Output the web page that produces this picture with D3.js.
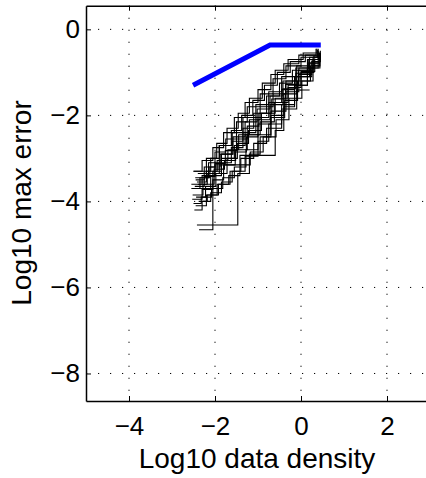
<!DOCTYPE html>
<html>
<head>
<meta charset="utf-8">
<script src="https://cdn.jsdelivr.net/npm/d3@7"></script>
<style>
  body { margin: 0; background: #fff; }
  svg { display: block; font-family: "Liberation Sans", Arial, sans-serif; }
</style>
</head>
<body>
<div id="chart"></div>
<script>
// tick values
const xTicks = [-4, -2, 0, 2];
const yTicks = [0, -2, -4, -6, -8];

// thick blue reference line
const blueX = [-2.51, -0.72, 0.46];
const blueY = [-1.30, -0.365, -0.365];

// black staircase runs, [log10 density, log10 max error]
const runs = [
  [[-2.45,-3.5],[-2.25,-3.2],[-2.0,-2.85],[-1.75,-2.55],[-1.5,-2.15],[-1.25,-1.8],[-0.95,-1.5],[-0.65,-1.15],[-0.35,-0.85],[0.0,-0.65],[0.38,-0.48]],
  [[-2.5,-3.3],[-2.3,-3.05],[-2.05,-2.75],[-1.8,-2.4],[-1.55,-2.05],[-1.3,-1.7],[-1.0,-1.4],[-0.7,-1.05],[-0.4,-0.8],[-0.05,-0.6],[0.35,-0.45]],
  [[-2.42,-4.55],[-1.47,-3.35],[-1.2,-2.9],[-0.95,-2.5],[-0.7,-2.0],[-0.4,-1.5],[-0.1,-1.1],[0.2,-0.8],[0.43,-0.62]],
  [[-2.37,-4.66],[-2.05,-3.3],[-1.85,-3.0],[-1.55,-2.7],[-1.3,-2.45],[-1.0,-2.2],[-0.7,-1.9],[-0.35,-1.45],[-0.05,-1.05],[0.25,-0.75],[0.45,-0.55]],
  [[-2.55,-3.6],[-2.3,-3.4],[-2.0,-3.15],[-1.42,-2.93],[-0.6,-2.35],[-0.4,-1.8],[-0.15,-1.3],[0.15,-0.9],[0.4,-0.65]],
  [[-2.45,-4.1],[-2.2,-3.85],[-1.95,-3.6],[-1.65,-3.3],[-1.4,-3.0],[-1.1,-2.65],[-0.8,-2.3],[-0.45,-1.85],[-0.1,-1.41],[0.2,-1.41]],
  [[-2.5,-3.3],[-2.35,-3.3],[-2.1,-3.0],[-1.9,-2.7],[-1.6,-2.4],[-1.35,-2.05],[-1.05,-1.75],[-0.75,-1.45],[-0.45,-1.1],[-0.1,-0.85],[0.2,-0.65],[0.38,-0.55]],
  [[-2.48,-4.2],[-2.3,-4.0],[-2.1,-3.8],[-1.85,-3.55],[-1.6,-3.3],[-1.3,-2.95],[-1.0,-2.6],[-0.75,-2.2],[-0.45,-1.75],[-0.15,-1.3],[0.15,-0.9],[0.44,-0.6]],
  [[-2.42,-3.55],[-2.2,-3.3],[-1.95,-3.05],[-1.7,-2.8],[-1.45,-2.45],[-1.2,-2.1],[-0.95,-1.8],[-0.65,-1.5],[-0.35,-1.2],[-0.05,-0.9],[0.3,-0.62],[0.42,-0.52]],
  [[-2.52,-3.85],[-2.28,-3.6],[-2.02,-3.25],[-1.78,-3.05],[-1.52,-2.8],[-1.25,-2.45],[-0.95,-2.15],[-0.62,-1.7],[-0.3,-1.35],[0.0,-1.0],[0.3,-0.7],[0.45,-0.58]],
  [[-2.46,-3.45],[-2.15,-3.1],[-1.9,-2.7],[-1.62,-2.35],[-1.38,-2.0],[-1.12,-1.65],[-0.85,-1.3],[-0.55,-1.0],[-0.25,-0.75],[0.1,-0.6],[0.4,-0.45]],
  [[-2.38,-4.0],[-2.18,-3.85],[-1.92,-3.6],[-1.68,-3.4],[-1.42,-3.15],[-1.18,-2.85],[-0.88,-2.5],[-0.58,-2.1],[-0.28,-1.6],[0.02,-1.2],[0.28,-0.85],[0.43,-0.64]],
  [[-2.55,-3.7],[-2.35,-3.45],[-2.12,-3.2],[-1.88,-2.9],[-1.58,-2.5],[-1.3,-2.15],[-1.02,-1.85],[-0.72,-1.55],[-0.42,-1.2],[-0.12,-0.9],[0.18,-0.7],[0.41,-0.56]],
  [[-2.44,-3.9],[-2.22,-3.65],[-1.98,-3.35],[-1.72,-3.0],[-1.48,-2.65],[-1.22,-2.35],[-0.92,-1.95],[-0.6,-1.6],[-0.3,-1.3],[0.0,-0.98],[0.32,-0.68]],
  [[-2.5,-4.05],[-2.32,-3.9],[-2.08,-3.7],[-1.82,-3.45],[-1.55,-3.2],[-1.28,-2.8],[-1.0,-2.45],[-0.7,-2.05],[-0.38,-1.65],[-0.08,-1.2],[0.22,-0.85],[0.44,-0.62]],
  [[-2.4,-3.35],[-2.2,-3.0],[-1.96,-2.65],[-1.72,-2.3],[-1.46,-1.95],[-1.2,-1.6],[-0.9,-1.25],[-0.6,-0.95],[-0.3,-0.7],[0.05,-0.55],[0.37,-0.45]],
  [[-2.47,-3.65],[-2.25,-3.42],[-2.0,-3.12],[-1.76,-2.82],[-1.5,-2.55],[-1.25,-2.25],[-0.98,-1.95],[-0.68,-1.62],[-0.36,-1.28],[-0.06,-0.95],[0.26,-0.7],[0.43,-0.55]],
  [[-2.53,-3.95],[-2.3,-3.72],[-2.05,-3.5],[-1.8,-3.15],[-1.53,-2.85],[-1.27,-2.5],[-1.0,-2.1],[-0.72,-1.75],[-0.42,-1.38],[-0.12,-1.02],[0.18,-0.78],[0.42,-0.6]],
  [[-2.4,-3.6],[-2.18,-3.35],[-1.9,-3.1],[-1.62,-2.75],[-1.35,-2.4],[-1.05,-2.05],[-0.75,-1.7],[-0.45,-1.4],[-0.15,-1.1],[0.25,-0.95],[0.28,-0.65],[0.45,-0.5]],
  [[-2.35,-3.7],[-2.1,-3.4],[-1.85,-2.9],[-1.6,-2.6],[-1.35,-2.3],[-1.1,-1.95],[-0.8,-1.55],[-0.5,-1.25],[-0.2,-0.95],[0.15,-0.7],[0.4,-0.5]]
];

const width = 426, height = 478;
const plotLeft = 86, plotTop = 5.7, plotBottom = 401, plotRight = 430;

const svg = d3.select("#chart")
  .append("svg")
    .attr("width", width)
    .attr("height", height);

const x = d3.scaleLinear().domain([-5, 3]).range([plotLeft, plotRight]);
const y = d3.scaleLinear().domain([0.55, -8.64]).range([plotTop, plotBottom]);

// dotted grid
svg.append("g")
  .selectAll("line")
  .data(xTicks)
  .join("line")
    .attr("x1", d => x(d)).attr("x2", d => x(d))
    .attr("y1", plotTop).attr("y2", plotBottom)
    .attr("stroke", "#000")
    .attr("stroke-width", 1)
    .attr("stroke-dasharray", "1.2,10.8");

svg.append("g")
  .selectAll("line")
  .data(yTicks)
  .join("line")
    .attr("x1", plotLeft).attr("x2", plotRight)
    .attr("y1", d => y(d)).attr("y2", d => y(d))
    .attr("stroke", "#000")
    .attr("stroke-width", 1)
    .attr("stroke-dasharray", "1.2,10.8");

// staircase runs
const line = d3.line()
  .x(d => x(d[0]))
  .y(d => y(d[1]))
  .curve(d3.curveStepAfter);

svg.append("g")
  .selectAll("path")
  .data(runs)
  .join("path")
    .attr("d", line)
    .attr("fill", "none")
    .attr("stroke", "#000")
    .attr("stroke-width", 1.1);

// blue line on top
const blueLine = d3.line()
  .x(d => x(d[0]))
  .y(d => y(d[1]));

svg.append("path")
  .datum(blueX.map((v, i) => [v, blueY[i]]))
  .attr("d", blueLine)
  .attr("fill", "none")
  .attr("stroke", "#0000ff")
  .attr("stroke-width", 5);

// axes, ticks point inward
const xAxis = svg.append("g")
  .attr("transform", `translate(0,${plotBottom})`)
  .call(d3.axisBottom(x).tickValues(xTicks).tickSizeInner(-5).tickSizeOuter(0).tickPadding(16));

const xAxisTop = svg.append("g")
  .attr("transform", `translate(0,${plotTop})`)
  .call(d3.axisTop(x).tickValues(xTicks).tickSizeInner(-5).tickSizeOuter(0).tickFormat(""));

const yAxis = svg.append("g")
  .attr("transform", `translate(${plotLeft},0)`)
  .call(d3.axisLeft(y).tickValues(yTicks).tickSizeInner(-5).tickSizeOuter(0).tickPadding(6));

[xAxis, xAxisTop, yAxis].forEach(g => {
  g.select(".domain").attr("stroke", "#000").attr("stroke-width", 1.5);
  g.selectAll(".tick line").attr("stroke", "#000").attr("stroke-width", 1);
  g.selectAll("text")
    .attr("font-family", "Liberation Sans, Arial, sans-serif")
    .attr("font-size", 26)
    .attr("fill", "#000");
});

// axis titles
svg.append("text")
  .attr("x", 257)
  .attr("y", 468)
  .attr("text-anchor", "middle")
  .attr("font-size", 28)
  .text("Log10 data density");

svg.append("text")
  .attr("transform", "translate(31,203) rotate(-90)")
  .attr("text-anchor", "middle")
  .attr("font-size", 28)
  .text("Log10 max error");
</script>
</body>
</html>
